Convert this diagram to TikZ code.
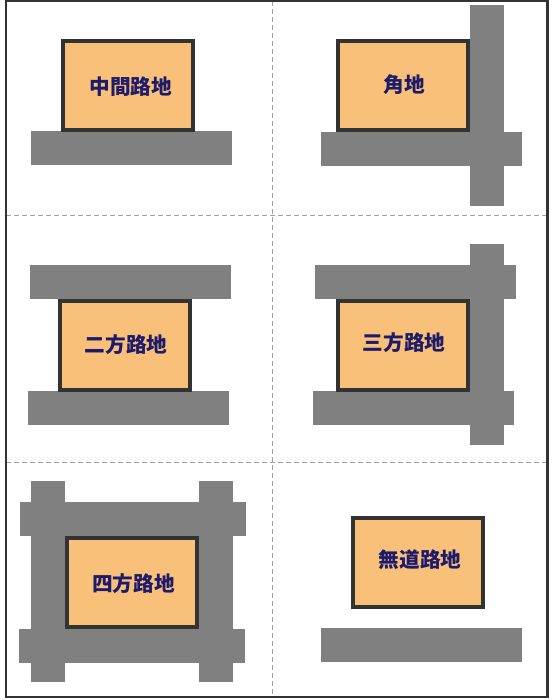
\documentclass[tikz,border=0pt]{standalone}
\usepackage{fontspec}
\newfontfamily\cjk{Noto Sans CJK JP}
\definecolor{framec}{HTML}{333333}
\definecolor{roadc}{HTML}{808080}
\definecolor{lotc}{HTML}{F9C07A}
\definecolor{textc}{HTML}{1E1B6B}
\definecolor{dashc}{HTML}{A0A0A0}
\tikzset{
  road/.style={fill=roadc, draw=none},
  lot/.style={draw=framec, fill=lotc, line width=3pt, minimum width=97.5pt, minimum height=66.75pt, inner sep=0pt},
  lottext/.style={inner sep=0pt, font=\cjk\bfseries\fontsize{15.5pt}{18pt}\selectfont, text=textc},
  divider/.style={draw=dashc, line width=0.75pt, dash pattern=on 3.75pt off 2.25pt},
  outer/.style={draw=framec, line width=1.9pt}
}
\begin{document}
\begin{tikzpicture}[x=0.75pt, y=-0.75pt]
\useasboundingbox (0,0) rectangle (554,700);
% dividers
\coordinate (vt) at (272.5,1);
\coordinate (vb) at (272.5,697);
\coordinate (h1l) at (6,215);
\coordinate (h1r) at (547,215);
\coordinate (h2l) at (6,462);
\coordinate (h2r) at (547,462);
\draw[divider] (vt) -- (vb);
\draw[divider] (h1l) -- (h1r);
\draw[divider] (h2l) -- (h2r);
% roads
\fill[road] (31,131) rectangle (232,164.7);
\fill[road] (470,5) rectangle (504,205.7);
\fill[road] (321,132) rectangle (522,165.7);
\fill[road] (30,265) rectangle (231,299);
\fill[road] (28,391) rectangle (229,424.7);
\fill[road] (315,265) rectangle (515.7,299);
\fill[road] (470,244) rectangle (504,445);
\fill[road] (313,391) rectangle (514,424.7);
\fill[road] (31,481) rectangle (65,681.7);
\fill[road] (199,481) rectangle (232.7,681.7);
\fill[road] (20,502) rectangle (246,536);
\fill[road] (19,629) rectangle (245,662.7);
\fill[road] (321,628) rectangle (522,661.7);
% lots
\node[lot] (chukan) at (127.8,85) {};
\node[lot] (kado) at (403.3,85.7) {};
\node[lot] (nihou) at (125,345.5) {};
\node[lot] (sanpou) at (402.8,345.5) {};
\node[lot] (yonpou) at (132,582.3) {};
\node[lot] (mudou) at (418,562.3) {};
% labels
\node[lottext] (chukan-t) at (130.8,86.3) {中間路地};
\node[lottext] (kado-t) at (404.5,84.7) {角地};
\node[lottext] (nihou-t) at (126,344.2) {二方路地};
\node[lottext] (sanpou-t) at (404.2,342.5) {三方路地};
\node[lottext] (yonpou-t) at (133.5,583.3) {四方路地};
\node[lottext] (mudou-t) at (420,559.7) {無道路地};
% frame
\draw[outer] (6.2,1.2) rectangle (547.3,697);
\end{tikzpicture}
\end{document}
